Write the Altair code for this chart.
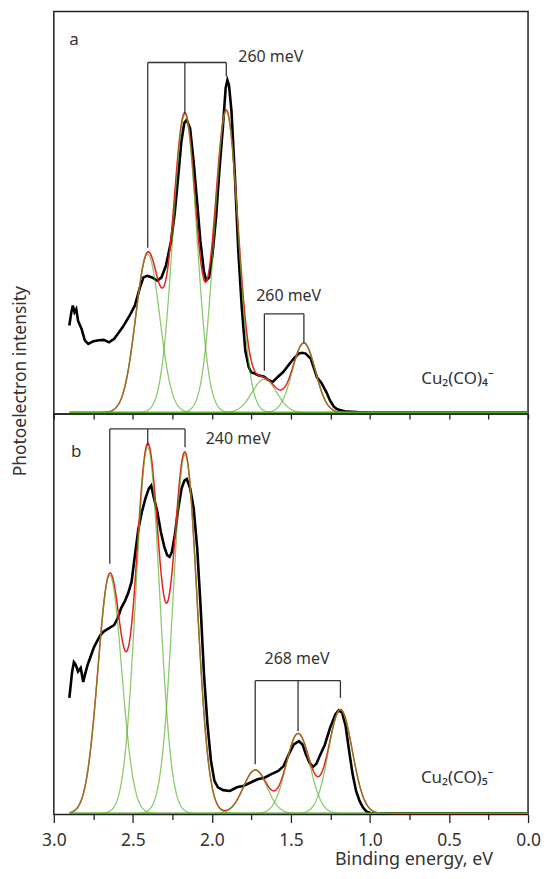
import altair as alt
import pandas as pd
import numpy as np

# ---------------- data ----------------
# Panel a: Cu2(CO)4-  experimental spectrum (binding energy eV, relative intensity)
a_E = [2.902, 2.891, 2.880, 2.869, 2.858, 2.847, 2.825, 2.804, 2.782, 2.749, 2.716, 2.684,
       2.651, 2.618, 2.596, 2.564, 2.520, 2.487, 2.455, 2.433, 2.411, 2.378, 2.345, 2.319,
       2.291, 2.258, 2.236, 2.214, 2.193, 2.175, 2.160, 2.138, 2.116, 2.094, 2.073, 2.051,
       2.036, 2.018, 1.996, 1.974, 1.953, 1.931, 1.913, 1.902, 1.892, 1.876, 1.854, 1.833,
       1.811, 1.789, 1.767, 1.751, 1.734, 1.702, 1.669, 1.647, 1.616, 1.582, 1.549, 1.516,
       1.484, 1.451, 1.430, 1.407, 1.374, 1.336, 1.309, 1.276, 1.253, 1.230, 1.211, 1.190,
       1.160, 1.120, 1.080, 1.000, 0.800, 0.600, 0.400, 0.200, 0.000]
a_I = [0.217, 0.246, 0.267, 0.250, 0.258, 0.229, 0.209, 0.180, 0.171, 0.178, 0.180, 0.181,
       0.175, 0.184, 0.196, 0.213, 0.242, 0.267, 0.312, 0.337, 0.341, 0.337, 0.329, 0.337,
       0.366, 0.428, 0.494, 0.585, 0.676, 0.722, 0.730, 0.709, 0.627, 0.527, 0.428, 0.353,
       0.329, 0.337, 0.395, 0.486, 0.602, 0.709, 0.809, 0.829, 0.817, 0.751, 0.585, 0.403,
       0.262, 0.155, 0.113, 0.100, 0.098, 0.092, 0.089, 0.082, 0.076, 0.089, 0.101, 0.118,
       0.134, 0.147, 0.149, 0.147, 0.134, 0.088, 0.075, 0.051, 0.030, 0.015, 0.009, 0.006,
       0.003, 0.002, 0.001, 0.000, 0.000, 0.000, 0.000, 0.000, 0.000]

# Panel b: Cu2(CO)5-
b_E = [2.902, 2.895, 2.884, 2.873, 2.862, 2.847, 2.830, 2.814, 2.803, 2.786, 2.771, 2.749,
       2.727, 2.705, 2.683, 2.650, 2.618, 2.596, 2.574, 2.552, 2.530, 2.508, 2.487, 2.465,
       2.443, 2.421, 2.399, 2.384, 2.366, 2.345, 2.323, 2.301, 2.283, 2.268, 2.253, 2.235,
       2.213, 2.192, 2.174, 2.159, 2.137, 2.115, 2.093, 2.071, 2.050, 2.028, 2.006, 1.984,
       1.962, 1.929, 1.886, 1.842, 1.798, 1.755, 1.711, 1.667, 1.624, 1.580, 1.547, 1.514,
       1.482, 1.449, 1.427, 1.405, 1.383, 1.361, 1.340, 1.318, 1.285, 1.252, 1.219, 1.198,
       1.176, 1.154, 1.132, 1.110, 1.088, 1.066, 1.045, 1.023, 0.990, 0.800, 0.600, 0.400,
       0.200, 0.000]
b_I = [0.288, 0.313, 0.354, 0.377, 0.371, 0.354, 0.363, 0.328, 0.346, 0.371, 0.387, 0.412,
       0.429, 0.445, 0.454, 0.462, 0.470, 0.487, 0.512, 0.528, 0.549, 0.578, 0.644, 0.710,
       0.752, 0.785, 0.810, 0.818, 0.785, 0.752, 0.702, 0.665, 0.644, 0.640, 0.652, 0.694,
       0.760, 0.810, 0.830, 0.834, 0.810, 0.760, 0.661, 0.512, 0.346, 0.222, 0.131, 0.081,
       0.065, 0.058, 0.056, 0.065, 0.069, 0.077, 0.085, 0.089, 0.098, 0.106, 0.118, 0.147,
       0.172, 0.180, 0.172, 0.147, 0.127, 0.116, 0.123, 0.143, 0.172, 0.214, 0.247, 0.257,
       0.251, 0.218, 0.156, 0.098, 0.056, 0.031, 0.015, 0.005, 0.000, 0.000, 0.000, 0.000,
       0.000, 0.000]

# Gaussian components of the fits (centre eV, height, sigma eV)
a_centers = [2.406, 2.171, 1.909, 1.668, 1.418]
a_heights = [0.395, 0.743, 0.752, 0.083, 0.173]
a_sigmas = [0.076, 0.075, 0.075, 0.078, 0.072]
b_centers = [2.646, 2.406, 2.170, 1.726, 1.455, 1.187]
b_heights = [0.594, 0.913, 0.895, 0.108, 0.199, 0.259]
b_sigmas = [0.075, 0.075, 0.075, 0.075, 0.075, 0.075]
fit_start = 2.9

# progression brackets: vertical legs (x, top, bottom) and horizontal bars (x1, x2, y)
a_leg_x = [2.406, 2.171, 1.909, 1.668, 1.418]
a_leg_top = [0.873, 0.873, 0.873, 0.246, 0.246]
a_leg_bot = [0.411, 0.745, 0.838, 0.104, 0.173]
a_bar_x1 = [2.406, 1.668]
a_bar_x2 = [1.909, 1.418]
a_bar_y = [0.873, 0.246]
b_leg_x = [2.646, 2.406, 2.170, 1.726, 1.455, 1.187]
b_leg_top = [0.959, 0.959, 0.959, 0.331, 0.331, 0.331]
b_leg_bot = [0.623, 0.917, 0.913, 0.1225, 0.205, 0.288]
b_bar_x1 = [2.646, 1.726]
b_bar_x2 = [2.170, 1.187]
b_bar_y = [0.959, 0.331]

# text labels
a_text = ["a", "260 meV", "260 meV", "Cu\u2082(CO)\u2084\u207b"]
a_text_x = [2.903, 1.833, 1.720, 0.676]
a_text_y = [0.916, 0.875, 0.277, 0.072]
a_text_size = [17, 16, 16, 17]
b_text = ["b", "240 meV", "268 meV", "Cu\u2082(CO)\u2085\u207b"]
b_text_x = [2.891, 2.039, 1.667, 0.678]
b_text_y = [0.888, 0.921, 0.373, 0.077]
b_text_size = [17, 16, 16, 17]

y_title = "Photoelectron intensity"
x_title = "Binding energy, eV"
tick_values = [0.0, 0.25, 0.5, 0.75, 1.0, 1.25, 1.5, 1.75, 2.0, 2.25, 2.5, 2.75, 3.0]

# ---------------- styling ----------------
FONT = "Noto Sans"
TXT = "#333333"
GREEN = "#4fae1e"
RED = "#e8211d"
PANEL_W = 476
XSCALE = alt.Scale(domain=[0, 3], reverse=True, nice=False, zero=False)


def gauss_frames(centers, heights, sigmas):
    grid = np.round(np.arange(0.0, fit_start + 1e-9, 0.004), 4)
    comps = []
    total = np.zeros_like(grid)
    for k, (c, h, s) in enumerate(zip(centers, heights, sigmas)):
        g = h * np.exp(-((grid - c) ** 2) / (2 * s * s))
        total += g
        comps.append(pd.DataFrame({"E": grid, "I": g, "peak": k}))
    return pd.concat(comps), pd.DataFrame({"E": grid, "I": total})


top_axis = alt.Axis(orient="top", values=tick_values, labels=False, domain=False,
                    grid=False, tickSize=5, offset=-5, tickColor="#222", tickWidth=1.3,
                    title=None)


def panel(E, I, centers, heights, sigmas, leg_x, leg_top, leg_bot, bar_x1, bar_x2, bar_y,
          texts, tx, ty, tsize, height, ydom, bottom_axis, ytitle):
    ysc = alt.Scale(domain=ydom, nice=False, zero=False)
    comp_df, fit_df = gauss_frames(centers, heights, sigmas)
    exp_df = pd.DataFrame({"E": E, "I": I})

    exp = alt.Chart(exp_df).mark_line(color="#000000", strokeWidth=2.6).encode(
        x=alt.X("E:Q", scale=XSCALE, axis=bottom_axis if bottom_axis else top_axis),
        y=alt.Y("I:Q", scale=ysc, axis=None),
        order="E:Q",
    )
    fit = alt.Chart(fit_df).mark_line(color=RED, strokeWidth=1.5).encode(
        x=alt.X("E:Q", scale=XSCALE, axis=None),
        y=alt.Y("I:Q", scale=ysc, axis=None),
    )
    comps = alt.Chart(comp_df).mark_line(color=GREEN, strokeWidth=1.3, opacity=0.65).encode(
        x=alt.X("E:Q", scale=XSCALE, axis=top_axis if bottom_axis else None),
        y=alt.Y("I:Q", scale=ysc, axis=None),
        detail="peak:N",
    )
    legs = alt.Chart(pd.DataFrame({"x": leg_x, "t": leg_top, "b": leg_bot})).mark_rule(
        color="#333333", strokeWidth=1.3).encode(
        x=alt.X("x:Q", scale=XSCALE, axis=None),
        y=alt.Y("t:Q", scale=ysc, axis=None),
        y2="b:Q",
    )
    bars = alt.Chart(pd.DataFrame({"x1": bar_x1, "x2": bar_x2, "y": bar_y})).mark_rule(
        color="#333333", strokeWidth=1.3).encode(
        x=alt.X("x1:Q", scale=XSCALE, axis=None),
        x2="x2:Q",
        y=alt.Y("y:Q", scale=ysc, axis=None),
    )
    labels = alt.Chart(pd.DataFrame({"x": tx, "y": ty, "t": texts, "s": tsize})).mark_text(
        align="left", baseline="alphabetic", font=FONT, color=TXT).encode(
        x=alt.X("x:Q", scale=XSCALE, axis=None),
        y=alt.Y("y:Q", scale=ysc, axis=None),
        text="t:N",
        size=alt.Size("s:Q", scale=None, legend=None),
    )
    layers = [exp, fit, comps, legs, bars, labels]
    if ytitle:
        ttl = alt.Chart(pd.DataFrame({"t": [y_title]})).mark_text(
            angle=270, align="center", baseline="alphabetic", font=FONT, fontSize=17.5,
            color=TXT).encode(x=alt.value(-28), y=alt.value(371), text="t:N")
        layers.append(ttl)
    return alt.layer(*layers).properties(width=PANEL_W, height=height)


bottom_axis = alt.Axis(
    orient="bottom", values=tick_values, domain=False, grid=False,
    tickSize={"condition": {"test": "round(datum.value*4) % 2 == 0", "value": 8}, "value": 5},
    tickColor="#222", tickWidth=1.3,
    labelExpr="round(datum.value*4) % 2 == 0 ? format(datum.value, '.1f') : ''",
    labelFlush=False, labelOverlap=False, labelBound=False,
    labelFont=FONT, labelFontSize=17.5, labelColor=TXT, labelPadding=9,
    title=x_title, titleFont=FONT, titleFontSize=18, titleFontWeight="normal",
    titleColor=TXT, titleX=361, titleY=50, titleAlign="center", titleBaseline="alphabetic",
)

pa = panel(a_E, a_I, a_centers, a_heights, a_sigmas, a_leg_x, a_leg_top, a_leg_bot,
           a_bar_x1, a_bar_x2, a_bar_y, a_text, a_text_x, a_text_y, a_text_size, 404,
           [-0.004, 1.0], None, True)
pb = panel(b_E, b_I, b_centers, b_heights, b_sigmas, b_leg_x, b_leg_top, b_leg_bot,
           b_bar_x1, b_bar_x2, b_bar_y, b_text, b_text_x, b_text_y, b_text_size, 402,
           [-0.003, 0.996], bottom_axis, False)

chart = alt.vconcat(pa, pb, spacing=0, bounds="flush").properties(
    padding={"left": 3, "top": 1, "right": 0, "bottom": 0}
).configure_view(stroke="#222222", strokeWidth=1.5).configure_axis(grid=False)

chart.save("out.html", embed_options={"renderer": "svg", "actions": False})
